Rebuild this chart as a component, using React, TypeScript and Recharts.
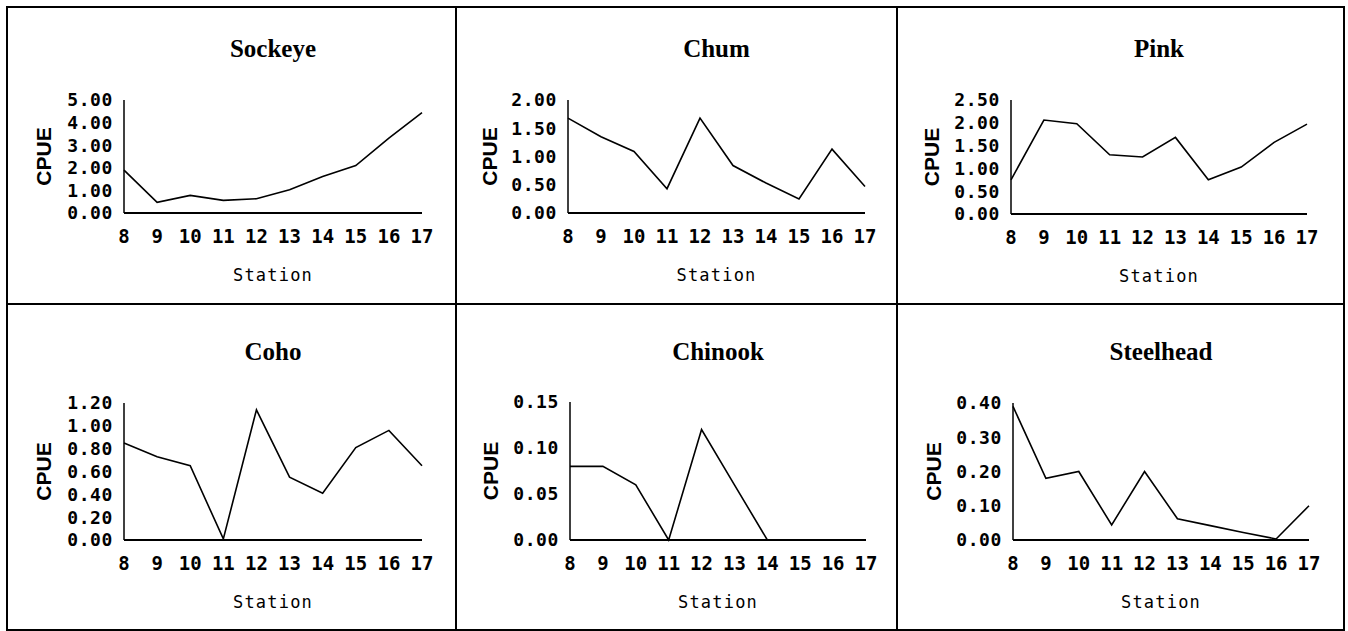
import React from 'react';
import { LineChart, Line, XAxis, YAxis } from 'recharts';

// ---- data ----
const stations = [8, 9, 10, 11, 12, 13, 14, 15, 16, 17];
const sockeye = [1.9, 0.47, 0.78, 0.56, 0.63, 1.03, 1.62, 2.1, 3.31, 4.44];
const chum = [1.68, 1.35, 1.09, 0.43, 1.68, 0.84, 0.53, 0.25, 1.13, 0.47];
const pink = [0.75, 2.06, 1.98, 1.3, 1.25, 1.68, 0.75, 1.03, 1.57, 1.97];
const coho = [0.85, 0.73, 0.65, 0.01, 1.14, 0.55, 0.41, 0.81, 0.96, 0.65];
const chinook = [0.08, 0.08, 0.06, 0.0, 0.12, 0.06, 0.0, 0.0, 0.0, 0.0];
const steelhead = [0.39, 0.18, 0.2, 0.044, 0.2, 0.062, 0.042, 0.022, 0.003, 0.1];

const sockeyeTicks = [0, 1, 2, 3, 4, 5];
const chumTicks = [0, 0.5, 1, 1.5, 2];
const pinkTicks = [0, 0.5, 1, 1.5, 2, 2.5];
const cohoTicks = [0, 0.2, 0.4, 0.6, 0.8, 1.0, 1.2];
const chinookTicks = [0, 0.05, 0.1, 0.15];
const steelheadTicks = [0, 0.1, 0.2, 0.3, 0.4];

const titles = ['Sockeye', 'Chum', 'Pink', 'Coho', 'Chinook', 'Steelhead'];
const xLabel = 'Station';
const yLabel = 'CPUE';

// ---- layout ----
const layout = [
  { x: 7, y: 7, w: 449, h: 297, left: 117, right: 34, top: 93, xh: 91, cpue: 36, titleTop: 29 },
  { x: 456, y: 7, w: 441, h: 297, left: 112, right: 32, top: 93, xh: 91, cpue: 33, titleTop: 29 },
  { x: 897, y: 7, w: 447, h: 297, left: 114, right: 37, top: 93, xh: 90, cpue: 34.7, titleTop: 29 },
  { x: 7, y: 304, w: 449, h: 326, left: 117, right: 34, top: 99, xh: 90, cpue: 36.5, titleTop: 35 },
  { x: 456, y: 304, w: 441, h: 326, left: 114, right: 31, top: 98, xh: 90, cpue: 34.5, titleTop: 35 },
  { x: 897, y: 304, w: 447, h: 326, left: 116, right: 35, top: 99, xh: 90, cpue: 36.7, titleTop: 35 },
];

const seriesList = [sockeye, chum, pink, coho, chinook, steelhead];
const tickList = [sockeyeTicks, chumTicks, pinkTicks, cohoTicks, chinookTicks, steelheadTicks];

const monoFont = '"DejaVu Sans Mono", monospace';

function Panel({ idx }: { idx: number }) {
  const L = layout[idx];
  const values = seriesList[idx];
  const ticks = tickList[idx];
  const data = stations.map((s, i) => ({ station: s, v: values[i] }));
  const plotW = L.w - L.left - L.right;

  const cpueLabel = (props: any) => {
    const vb = props.viewBox || {};
    const cx = (vb.x || 0) + L.cpue;
    const cy = vb.y + vb.height / 2;
    return (
      <text
        x={cx}
        y={cy}
        transform={`rotate(-90 ${cx} ${cy})`}
        textAnchor="middle"
        dominantBaseline="central"
        style={{ fontFamily: '"Liberation Sans", Arial, sans-serif', fontWeight: 'bold', fontSize: 21, fill: '#000' }}
      >
        {yLabel}
      </text>
    );
  };

  const stationLabel = (props: any) => {
    const vb = props.viewBox || {};
    const cx = vb.x + vb.width / 2;
    const cy = vb.y + 68;
    return (
      <text
        x={cx}
        y={cy}
        textAnchor="middle"
        style={{ fontFamily: monoFont, fontSize: 17, letterSpacing: 1.2, fill: '#000' }}
      >
        {xLabel}
      </text>
    );
  };

  return (
    <div style={{ position: 'absolute', left: L.x, top: L.y, width: L.w, height: L.h }}>
      <div
        style={{
          position: 'absolute',
          left: L.left,
          width: plotW,
          top: L.titleTop,
          textAlign: 'center',
          fontFamily: '"Liberation Serif", "Times New Roman", serif',
          fontWeight: 'bold',
          fontSize: 25,
          lineHeight: '25px',
          color: '#000',
        }}
      >
        {titles[idx]}
      </div>
      <LineChart
        width={L.w}
        height={L.h}
        data={data}
        margin={{ top: L.top, right: L.right, bottom: 0, left: 0 }}
      >
        <XAxis
          dataKey="station"
          type="number"
          domain={[8, 17]}
          ticks={stations}
          interval={0}
          tickLine={false}
          tickSize={0}
          tickMargin={17}
          height={L.xh}
          axisLine={{ stroke: '#000', strokeWidth: 1.8 }}
          tick={{ fontFamily: monoFont, fontWeight: 'bold', fontSize: 19, fill: '#000' }}
          label={stationLabel}
        />
        <YAxis
          type="number"
          domain={[0, ticks[ticks.length - 1]]}
          ticks={ticks}
          interval={0}
          width={L.left}
          tickLine={false}
          tickSize={0}
          tickMargin={11}
          axisLine={{ stroke: '#000', strokeWidth: 1.5 }}
          tickFormatter={(v: number) => v.toFixed(2)}
          tick={{ fontFamily: monoFont, fontWeight: 'bold', fontSize: 18, letterSpacing: 0.6, fill: '#000' }}
          label={cpueLabel}
        />
        <Line
          type="linear"
          dataKey="v"
          stroke="#000"
          strokeWidth={1.6}
          dot={false}
          isAnimationActive={false}
        />
      </LineChart>
    </div>
  );
}

export default function App() {
  return (
    <div style={{ position: 'absolute', left: 0, top: 0, width: 1348, height: 631, background: '#fff' }}>
      {/* frame */}
      <div style={{ position: 'absolute', left: 6, top: 6, width: 1339, height: 625, border: '2px solid #000', boxSizing: 'border-box' }} />
      <div style={{ position: 'absolute', left: 455, top: 6, width: 2, height: 625, background: '#000' }} />
      <div style={{ position: 'absolute', left: 896, top: 6, width: 2, height: 625, background: '#000' }} />
      <div style={{ position: 'absolute', left: 6, top: 303, width: 1339, height: 2, background: '#000' }} />
      {layout.map((_, i) => (
        <Panel key={i} idx={i} />
      ))}
    </div>
  );
}
